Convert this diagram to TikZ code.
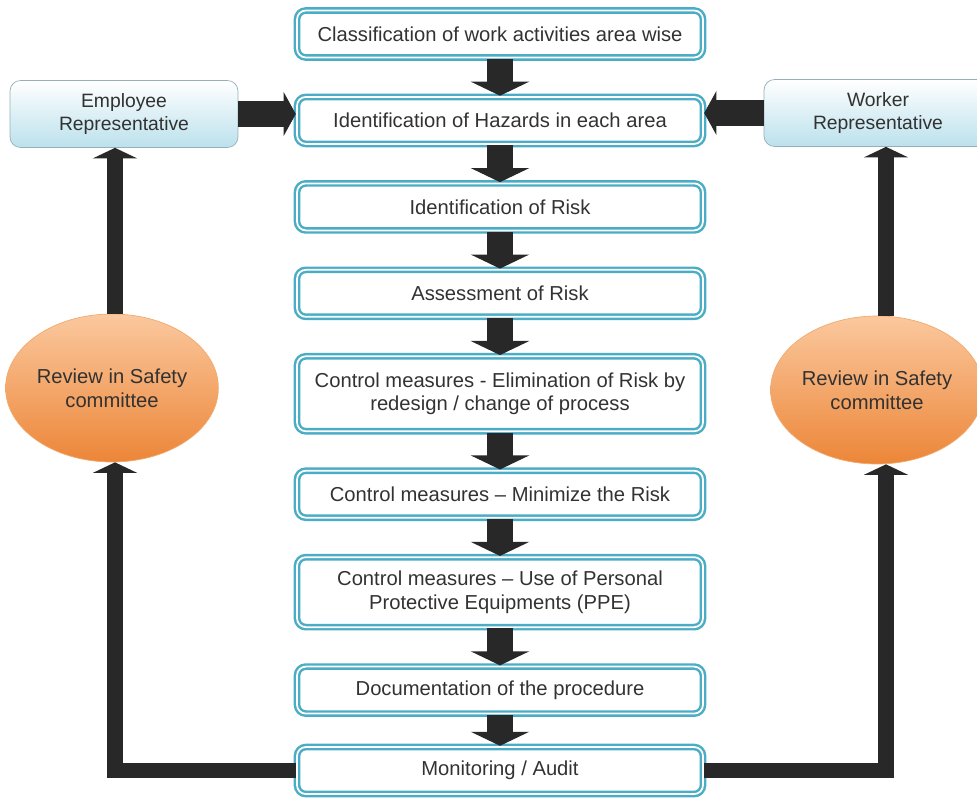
\documentclass[tikz,border=0pt]{standalone}
\usepackage{fontspec}
\setmainfont{Liberation Sans}
\usetikzlibrary{positioning,arrows.meta,shapes.geometric}

\definecolor{stepblue}{RGB}{75,172,198}
\definecolor{repblue}{RGB}{188,225,236}
\definecolor{repedge}{RGB}{150,176,186}
\definecolor{revtop}{RGB}{251,200,158}
\definecolor{revbot}{RGB}{236,134,56}
\definecolor{revedge}{RGB}{240,170,110}
\definecolor{txt}{RGB}{50,50,50}
\definecolor{arrowgrey}{RGB}{40,40,40}

\tikzstyle{s} = [rectangle, rounded corners=5pt, minimum width=8.12cm, minimum height=0.94cm, align=center, draw=stepblue, line width=1.4pt, double=white, double distance=1pt, text=txt, font=\fontsize{11.5}{13.5}\selectfont]
\tikzstyle{rep} = [rectangle, rounded corners=6pt, minimum width=4.56cm, minimum height=1.34cm, align=center, draw=repedge, top color=white, bottom color=repblue, text=txt, font=\fontsize{11}{13}\selectfont]
\tikzstyle{review} = [ellipse, minimum width=4.1cm, minimum height=2.96cm, inner sep=0pt, align=center, draw=revedge, top color=revtop, bottom color=revbot, text=txt, font=\fontsize{11.5}{13.5}\selectfont]
\tikzstyle{fat} = [draw=arrowgrey, line width=15pt, -{Triangle[width=33pt,length=8pt]}]
\tikzstyle{feed} = [draw=arrowgrey, line width=9pt, line join=miter, -{Triangle[width=25pt,length=6pt]}]

\begin{document}
\begin{tikzpicture}[x=0.02cm, y=-0.02cm, node distance=0.74cm]
\useasboundingbox (0,0) rectangle (977,798);

% centre column
\node[s] (Classify) at (500,34) {Classification of work activities area wise};
\node[s] (HazardID) [below=of Classify] {Identification of Hazards in each area};
\node[s] (RiskID) [below=of HazardID] {Identification of Risk};
\node[s] (Assess) [below=of RiskID] {Assessment of Risk};
\node[s, minimum height=1.5cm] (Eliminate) [below=of Assess] {Control measures - Elimination of Risk by\\redesign / change of process};
\node[s] (Minimize) [below=of Eliminate] {Control measures -- Minimize the Risk};
\node[s, minimum height=1.4cm] (PPE) [below=of Minimize] {Control measures -- Use of Personal\\Protective Equipments (PPE)};
\node[s] (Document) [below=of PPE] {Documentation of the procedure};
\node[s] (Monitor) [below=0.62cm of Document] {Monitoring / Audit};

% side nodes
\node[rep] (EmpRep) at (124,114) {Employee\\Representative};
\node[rep] (WorkRep) at (878,113) {Worker\\Representative};
\node[review] (LeftReview) at (112,388) {Review in Safety\\committee};
\node[review] (RightReview) at (877,390) {Review in Safety\\committee};

\coordinate (lx) at (115,0);
\coordinate (rx) at (886,0);

\path
  (Classify) edge[fat] (HazardID)
  (HazardID) edge[fat] (RiskID)
  (RiskID) edge[fat] (Assess)
  (Assess) edge[fat] (Eliminate)
  (Eliminate) edge[fat] (Minimize)
  (Minimize) edge[fat] (PPE)
  (PPE) edge[fat] (Document)
  (Document) edge[fat] (Monitor)
  (EmpRep.east) edge[fat, -{Triangle[width=25pt,length=7pt]}] (HazardID.west |- EmpRep.east)
  (WorkRep.west) edge[fat, -{Triangle[width=25pt,length=7pt]}] (HazardID.east |- WorkRep.west)
  (LeftReview.north -| lx) edge[feed] (EmpRep.south -| lx)
  (RightReview.north -| rx) edge[feed] (WorkRep.south -| rx)
  ;

% feedback loops
\draw[feed] (Monitor.west) -- (Monitor.west -| lx) -- (LeftReview.south -| lx);
\draw[feed] (Monitor.east) -- (Monitor.east -| rx) -- (RightReview.south -| rx);

\end{tikzpicture}
\end{document}
